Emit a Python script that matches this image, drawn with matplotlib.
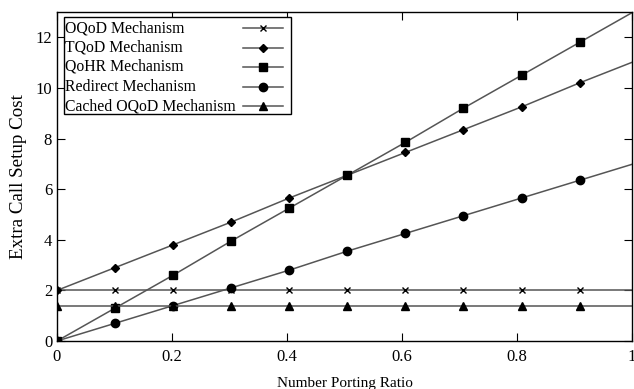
import matplotlib
matplotlib.use("Agg")
import matplotlib.pyplot as plt
from matplotlib.lines import Line2D
from matplotlib.patches import Rectangle

plt.rcParams['font.family'] = ['Liberation Serif', 'DejaVu Serif']

ratio = [0, 0.101, 0.202, 0.303, 0.404, 0.505, 0.606, 0.707, 0.808, 0.909, 1.01]
oqod = [2, 2, 2, 2, 2, 2, 2, 2, 2, 2, 2]
tqod = [2, 2.9, 3.8, 4.7, 5.65, 6.55, 7.45, 8.35, 9.25, 10.2, 11.1]
qohr = [0, 1.3, 2.6, 3.95, 5.25, 6.55, 7.85, 9.2, 10.5, 11.8, 13.1]
redirect = [0, 0.7, 1.4, 2.1, 2.8, 3.55, 4.25, 4.95, 5.65, 6.35, 7.05]
cached = [1.4] * 11

labels = ["OQoD Mechanism", "TQoD Mechanism", "QoHR Mechanism",
          "Redirect Mechanism", "Cached OQoD Mechanism"]
series = [oqod, tqod, qohr, redirect, cached]
markers = ['x', 'D', 's', 'o', '^']
msizes = [5, 4, 6, 6, 5.5]
line_color = '#555555'

fig = plt.figure(figsize=(6.34, 3.89), dpi=100)
ax = fig.add_axes([0.0899, 0.1234, 0.9068, 0.8457])

style = dict(color=line_color, linewidth=1.1, markerfacecolor='black',
             markeredgecolor='black', markeredgewidth=1.0)

for ys, lab, m, ms in zip(series, labels, markers, msizes):
    ax.plot(ratio, ys, marker=m, markersize=ms, label=lab, **style)

ax.set_xlim(0, 1)
ax.set_ylim(0, 13)
ax.set_xticks([0, 0.2, 0.4, 0.6, 0.8, 1])
ax.set_xticklabels(['0', '0.2', '0.4', '0.6', '0.8', '1'])
ax.set_yticks([0, 2, 4, 6, 8, 10, 12])
ax.tick_params(direction='in', top=True, right=True, length=6, width=0.8,
               labelsize=12, colors='black')
ax.tick_params(axis='x', pad=6)
ax.tick_params(axis='y', pad=3.5)
for s in ax.spines.values():
    s.set_linewidth(1.0)
    s.set_color('black')

ax.set_xlabel("Number Porting Ratio", fontsize=11)
ax.set_ylabel("Extra Call Setup Cost", fontsize=13.7)
ax.xaxis.set_label_coords(0.501, -0.108)
ax.yaxis.set_label_coords(-0.053, 0.5)

# gnuplot-style key: text left-aligned, samples on the right
box = Rectangle((0.0122, 0.690), 0.407 - 0.0122, 0.985 - 0.690,
                transform=ax.transAxes, facecolor='white', edgecolor='black',
                linewidth=1.0, zorder=5)
ax.add_patch(box)
row_y = [0.951, 0.891, 0.833, 0.772, 0.714]
for yk, lab, m, ms in zip(row_y, labels, markers, msizes):
    ax.text(0.0139, yk, lab, transform=ax.transAxes, fontsize=11.3,
            va='center', ha='left', zorder=6)
    ax.add_line(Line2D([0.3235, 0.393], [yk, yk], transform=ax.transAxes,
                       zorder=6, **style))
    ax.add_line(Line2D([0.358], [yk], transform=ax.transAxes, marker=m,
                       markersize=ms, linestyle='none', zorder=7, **style))

fig.savefig("out.png", dpi=100)
